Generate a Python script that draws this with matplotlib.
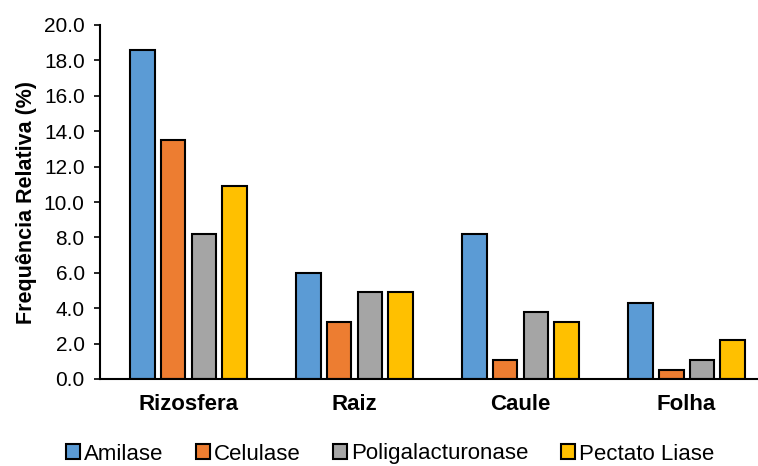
import numpy as np
import matplotlib
matplotlib.use('Agg')
import matplotlib.pyplot as plt
from matplotlib.ticker import FormatStrFormatter

plt.rcParams['font.family'] = ['Liberation Sans', 'DejaVu Sans']

# dados
categorias = ['Rizosfera', 'Raiz', 'Caule', 'Folha']
amilase = [18.6, 6.0, 8.2, 4.3]
celulase = [13.5, 3.2, 1.1, 0.5]
poligalacturonase = [8.2, 4.9, 3.8, 1.1]
pectato_liase = [10.9, 4.9, 3.2, 2.2]

series = [('Amilase', amilase, '#5B9BD5'),
          ('Celulase', celulase, '#ED7D31'),
          ('Poligalacturonase', poligalacturonase, '#A5A5A5'),
          ('Pectato Liase', pectato_liase, '#FFC000')]

fig = plt.figure(figsize=(7.58, 4.66), dpi=100)
ax = fig.add_axes([100 / 758, 87 / 466, 1 - 100 / 758, 354 / 466])

x = np.arange(len(categorias))
passo = 0.185
largura = 0.148
for i, (nome, vals, cor) in enumerate(series):
    ax.bar(x + (i - 1.5) * passo, vals, largura, color=cor, edgecolor='black',
           linewidth=1.5, label=nome, zorder=2)

ax.set_xlim(-0.533, 3.43)
ax.set_ylim(0, 20)
ax.set_yticks(np.arange(0, 20.1, 2))
ax.yaxis.set_major_formatter(FormatStrFormatter('%.1f'))
ax.set_xticks(x)
ax.set_xticklabels(categorias, fontsize=16, fontweight='bold')
ax.tick_params(axis='x', length=0, pad=11)
ax.tick_params(axis='y', labelsize=15, length=4, width=1.2, direction='out', pad=7)
for s in ['top', 'right']:
    ax.spines[s].set_visible(False)
ax.spines['left'].set_linewidth(1.5)
ax.spines['bottom'].set_linewidth(1.5)
ax.set_ylabel('Frequência Relativa (%)', fontsize=15.5, fontweight='bold', labelpad=5)

fig.legend(loc='center', bbox_to_anchor=(0.515, 12 / 466), ncol=4, frameon=False,
           fontsize=16, handlelength=0.62, handleheight=0.62, handletextpad=0.2,
           columnspacing=1.45, borderaxespad=0, borderpad=0)

fig.savefig('out.png', dpi=100)
